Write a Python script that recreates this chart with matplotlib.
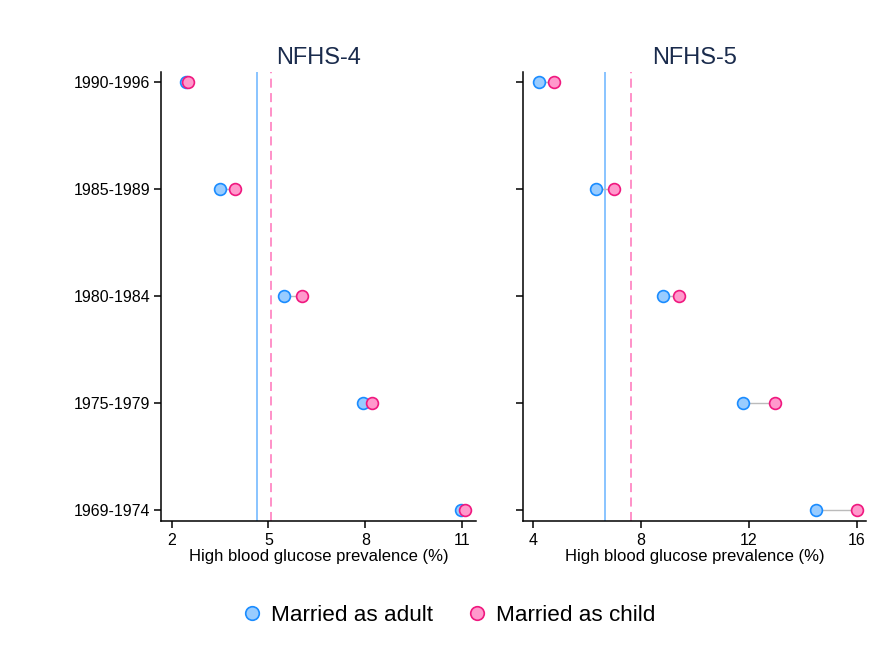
import matplotlib.pyplot as plt

plt.rcParams['font.family'] = ['Liberation Sans', 'DejaVu Sans']

cohorts = ['1969-1974', '1975-1979', '1980-1984', '1985-1989', '1990-1996']

# NFHS-4 (%), bottom to top
nfhs4_adult = [10.97, 7.94, 5.49, 3.50, 2.46]
nfhs4_child = [11.10, 8.20, 6.03, 3.95, 2.51]
nfhs4_mean_adult = 4.63
nfhs4_mean_child = 5.08

# NFHS-5 (%)
nfhs5_adult = [14.48, 11.79, 8.81, 6.33, 4.23]
nfhs5_child = [16.00, 12.96, 9.43, 7.02, 4.77]
nfhs5_mean_adult = 6.69
nfhs5_mean_child = 7.63

ADULT_EDGE = '#1a8cff'
ADULT_FILL = '#99ccff'
CHILD_EDGE = '#f0187f'
CHILD_FILL = '#ff99cc'
ADULT_LINE = '#80bfff'
CHILD_LINE = '#ff88c4'

fig = plt.figure(figsize=(8.86, 6.55), dpi=100)
ax1 = fig.add_axes([0.1817, 0.2046, 0.3555, 0.6855])
ax2 = fig.add_axes([0.5900, 0.2046, 0.3875, 0.6855])

panels = [
    (ax1, 'NFHS-4', nfhs4_adult, nfhs4_child, nfhs4_mean_adult, nfhs4_mean_child,
     [2, 5, 8, 11], (1.67, 11.43)),
    (ax2, 'NFHS-5', nfhs5_adult, nfhs5_child, nfhs5_mean_adult, nfhs5_mean_child,
     [4, 8, 12, 16], (3.63, 16.34)),
]

y = list(range(len(cohorts)))

for ax, title, adult, child, m_a, m_c, xticks, xlim in panels:
    ax.axvline(m_a, color=ADULT_LINE, lw=1.3, zorder=1)
    ax.axvline(m_c, color=CHILD_LINE, lw=1.3, ls=(0, (5, 3)), zorder=1)
    for yi, a, c in zip(y, adult, child):
        ax.plot([a, c], [yi, yi], color='#bbbbbb', lw=1, zorder=2)
    ax.plot(adult, y, 'o', ms=8.5, mfc=ADULT_FILL, mec=ADULT_EDGE, mew=1.2,
            ls='none', zorder=3, label='Married as adult')
    ax.plot(child, y, 'o', ms=8.5, mfc=CHILD_FILL, mec=CHILD_EDGE, mew=1.2,
            ls='none', zorder=4, label='Married as child')

    ax.set_xlim(*xlim)
    ax.set_ylim(-0.1, 4.09)
    ax.set_xticks(xticks)
    ax.set_yticks(y)
    ax.set_title(title, fontsize=17, color='#1a2b4c', pad=6)
    ax.set_xlabel('High blood glucose prevalence (%)', fontsize=12, labelpad=1)
    for s in ['top', 'right']:
        ax.spines[s].set_visible(False)
    for s in ['left', 'bottom']:
        ax.spines[s].set_linewidth(1.1)
    ax.tick_params(direction='out', length=5, width=1.1, labelsize=11.5)
    ax.tick_params(axis='y', pad=2.5)

ax1.set_yticklabels(cohorts)
ax2.set_yticklabels([])

handles, labels = ax1.get_legend_handles_labels()
fig.legend(handles, labels, loc='center', bbox_to_anchor=(0.506, 0.06), ncol=2,
           frameon=False, fontsize=16.2, handletextpad=0.35, columnspacing=1.45,
           handlelength=1.0, markerscale=1.15)

fig.savefig('out.png', dpi=100)
